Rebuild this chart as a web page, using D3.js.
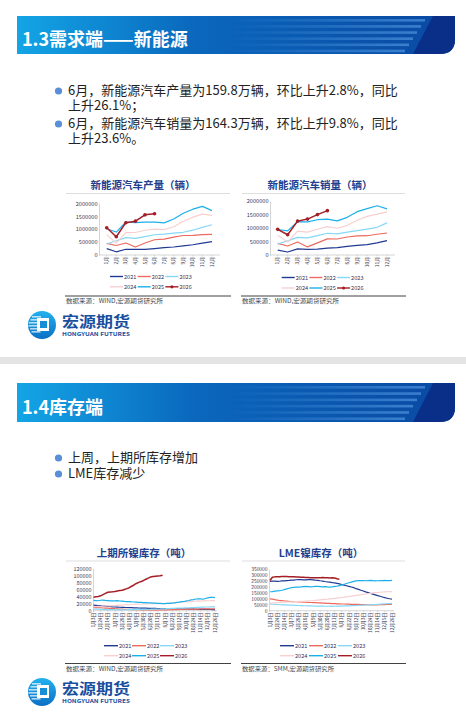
<!DOCTYPE html>
<html><head><meta charset="utf-8">
<script src="https://cdn.jsdelivr.net/npm/d3@7"></script>
<style>
body{margin:0;background:#fff}
svg{display:block}
text{font-family:"Noto Sans CJK SC","Noto Sans",sans-serif}
</style>
</head><body>
<svg id="c" width="466" height="719"></svg>
<script>
// ---------- data ----------
const years = ["2021","2022","2023","2024","2025","2026"];
const months = ["1月","2月","3月","4月","5月","6月","7月","8月","9月","10月","11月","12月"];

const prod2021 = [249000,124000,222000,217000,217000,248000,284000,309000,353000,397000,457000,518000];
const prod2022 = [452000,368000,465000,312000,466000,590000,617000,691000,755000,762000,787000,795000];
const prod2023 = [425000,552000,674000,640000,713000,784000,805000,843000,879000,959000,1066000,1172000];
const prod2024 = [787000,460000,863000,870000,958000,1003000,984000,1092000,1308000,1463000,1580000,1531000];
const prod2025 = [1015000,888000,1277000,1251000,1270000,1268000,1243000,1391000,1617000,1772000,1880000,1718000];
const prod2026 = [1055000,705000,1250000,1310000,1554000,1598000];

const sales2021 = [179000,110000,226000,206000,217000,256000,271000,321000,357000,383000,450000,531000];
const sales2022 = [431000,334000,484000,299000,447000,596000,593000,666000,708000,714000,768000,814000];
const sales2023 = [408000,525000,653000,636000,717000,806000,780000,846000,904000,956000,1026000,1191000];
const sales2024 = [729000,477000,883000,850000,955000,1049000,991000,1100000,1287000,1430000,1512000,1596000];
const sales2025 = [944000,892000,1237000,1226000,1307000,1329000,1262000,1395000,1604000,1715000,1823000,1710000];
const sales2026 = [950000,750000,1255000,1330000,1496000,1643000];

const weekTicks = ["1月3日","1月24日","2月14日","3月7日","3月28日","4月18日","5月9日","5月30日","6月20日","7月11日","8月1日","8月22日","9月12日","10月3日","10月24日","11月14日","12月5日","12月26日"];

const shfe2021 = [15800,15300,14500,14100,13000,12800,12100,11900,11000,10500,10300,9800,9600,9200,9100,8600,8500,8000,7900,7700,7300,7200,7100,6800,6700,6400,6300,6200,5900,5900,5700,5500,5500,5200,5200,5000,5000,4800,4700,4600,4400,4400,4200,4100,4000,3800,3700,3600,3500,3400,3200,3100];
const shfe2022 = [9200,8900,8400,8300,7700,7500,7100,6500,6300,5700,5300,4700,4600,4000,3900,3400,3300,2900,2800,2700,2400,2500,2200,2200,2000,2100,1900,2100,2300,2200,2500,2600,2900,3000,3300,3200,3600,3500,3900,4000,4200,4300,4500,4700,4600,4900,5100,5000,5100,5300,5200,5400];
const shfe2023 = [4600,4300,4200,3800,3700,3300,3200,3100,2900,2800,2600,2700,2500,2700,2800,3100,3000,3300,3500,3300,3500,3700,3800,4100,4200,4500,4400,4800,4900,5200,5300,5800,6000,6400,6500,7100,7200,7700,7900,8300,8400,8800,9000,9300,9400,9900,10100,10500,10500,11000,11100,11600];
const shfe2024 = [11000,11600,12100,12000,12900,13400,14100,13600,14600,14900,15600,15200,16100,16400,17100,16800,17600,17900,18500,18200,18900,19100,19600,19000,19700,19900,19800,20300,20400,20000,20500,20900,21600,21900,22600,22900,23600,23900,24700,24900,25600,25900,26500,26900,27600,27200,28000,28400,28100,28300,28900,28500];
const shfe2025 = [29000,28500,28100,29500,30100,29200,28700,28000,27600,27800,28300,27500,26900,26200,25700,25600,24900,24600,24100,23500,23300,22700,22600,22000,21900,21500,21300,20900,20700,20300,20200,20600,21000,21700,22300,23600,24500,25600,26100,27600,28900,30600,31400,33100,33900,33200,32400,34600,36400,37600,38100,37200];
const shfe2026 = [38000,39200,40400,42100,45600,49100,52300,53100,53400,54100,55600,56900,58100,60200,62400,65100,69200,72800,77100,80200,82400,85600,89100,92400,95600,96900,97600,98400,99100,100400];

const lme2021 = [248000,249500,250500,248000,249000,251500,252000,254500,256000,258500,259000,261500,262000,262500,261000,260000,262500,263000,261000,258000,256500,253000,250500,247000,244000,241500,238000,235500,231000,226500,221000,216500,211000,205500,200000,194500,187000,180500,173000,166500,159000,152500,146000,140500,134000,127500,122000,115500,110000,105500,101000,98000];
const lme2022 = [100000,97500,93000,89500,86000,84500,82000,80500,78000,77500,76000,75500,74000,73500,72000,71500,70000,69500,68000,67500,66000,65500,64000,63500,62000,61500,60000,59500,58000,57500,56500,56500,55000,55000,54000,53500,53000,53000,52000,51500,51000,50500,50000,50500,49500,50000,50500,51500,52000,53000,54000,55000];
const lme2023 = [55000,54500,53500,52500,50500,50000,49000,48500,47000,46500,45500,45000,44000,43500,42500,42000,41500,41000,40000,39500,39000,38500,38000,37500,37500,38000,37000,37500,38500,39000,39500,40500,41000,41500,42500,43500,44000,45000,46000,47000,48000,49000,50000,51500,52500,54000,55500,56500,58000,59500,61000,62500];
const lme2024 = [64000,66000,67000,69000,70000,71500,72000,73500,74000,75500,76000,77000,78000,79000,80000,81500,82500,84000,85000,87000,89000,91000,93000,95000,97000,99500,102000,104000,106500,109000,111500,114000,117000,120000,123000,126000,129000,132000,135000,138000,141000,144000,147000,150000,152000,154000,156000,158000,159000,160000,161000,160000];
const lme2025 = [160000,162000,165000,168000,170000,173000,178000,184000,190000,195000,198000,199000,200000,201000,203000,205000,204000,202000,203000,205000,206000,204000,202000,203000,201000,200000,202000,205000,208000,212000,218000,224000,230000,236000,242000,248000,252000,254000,255000,254000,253000,255000,256000,254000,252000,253000,254000,255000,256000,255000,254000,256000];
const lme2026 = [255000,283000,286000,287000,288000,289000,290000,289000,288000,287000,286000,285000,284000,283000,282000,281000,280000,279000,279000,278000,278000,279000,280000,279000,278000,277000,278000,276000,270000,266000];

const yTicksCars = [0,500000,1000000,1500000,2000000];
const yTicksShfe = [0,20000,40000,60000,80000,100000,120000];
const yTicksLme = [0,50000,100000,150000,200000,250000,300000,350000];

// ---------- styles ----------
const colorOf = {"2021":"#1f3a93","2022":"#ec6a5e","2023":"#86d8f7","2024":"#f8d0d0","2025":"#1cb0ea","2026":"#a51d24"};

const svg = d3.select("#c");
const defs = svg.append("defs");

const bg = defs.append("linearGradient").attr("id","bannerGrad").attr("x1","0").attr("x2","1").attr("y1","0").attr("y2","0");
bg.append("stop").attr("offset","0%").attr("stop-color","#13a5e6");
bg.append("stop").attr("offset","40%").attr("stop-color","#0a68bd");
bg.append("stop").attr("offset","100%").attr("stop-color","#0a48a2");

const sg = defs.append("linearGradient").attr("id","stripeGrad").attr("x1","0").attr("x2","1").attr("y1","0").attr("y2","0");
sg.append("stop").attr("offset","0%").attr("stop-color","#5fa8ee").attr("stop-opacity",0);
sg.append("stop").attr("offset","100%").attr("stop-color","#5fa8ee").attr("stop-opacity",0.55);

const lg = defs.append("linearGradient").attr("id","logoGrad").attr("x1","0").attr("x2","0").attr("y1","0").attr("y2","1");
lg.append("stop").attr("offset","0%").attr("stop-color","#22b2ee");
lg.append("stop").attr("offset","100%").attr("stop-color","#0b6fc4");

function banner(y0, y1, title){
  const g = svg.append("g");
  const r = 15;
  g.append("path").attr("d",`M17,${y0} H455 V${y1-r} Q455,${y1} ${455-r},${y1} H17 Z`).attr("fill","url(#bannerGrad)");
  const h = y1-y0;
  for(let i=0;i<6;i++){
    const yy = y0 + 3 + i*h/6.2;
    g.append("rect").attr("x",230).attr("y",yy).attr("width",195 - i*4).attr("height",2.6).attr("fill","url(#stripeGrad)");
  }
  g.append("path").attr("d",`M433,${y0} H455 V${y1-r} Q455,${y1} ${455-r},${y1} H413 Z`).attr("fill","#0a2f88");
  g.append("text").attr("x",22).attr("y",y1-8).attr("fill","#fff").attr("font-size",18).attr("font-weight","bold").text(title);
}

function bulletBlock(y0, lines){
  let y = y0;
  lines.forEach((l,i)=>{
    y += (i===0 ? 0 : l.gap);
    if(l.dot) svg.append("circle").attr("cx",58.5).attr("cy",y-4).attr("r",3.6).attr("fill","#5b8ed8");
    svg.append("text").attr("x",68).attr("y",y).attr("font-size",13).attr("fill","#222")
      .attr("font-family","'Liberation Sans','Noto Sans CJK SC',sans-serif").text(l.t);
  });
}

function logo(cy){
  const g = svg.append("g");
  g.append("circle").attr("cx",42).attr("cy",cy).attr("r",14).attr("fill","url(#logoGrad)");
  [-8,-5,-2,1,4,7].forEach((d,i)=>{
    g.append("rect").attr("x",28+Math.abs(d)*0.5).attr("y",cy+d-0.8).attr("width",9).attr("height",1.3).attr("fill","#fff").attr("opacity",0.85);
  });
  g.append("rect").attr("x",37).attr("y",cy-7).attr("width",12).attr("height",13).attr("fill","#fff");
  g.append("rect").attr("x",40).attr("y",cy-4).attr("width",7).attr("height",7).attr("fill","#1590d8");
  g.append("text").attr("x",62).attr("y",cy+1.5).attr("font-size",14.5).attr("font-weight","bold").attr("fill","#1a4f9f")
    .attr("textLength",68).attr("lengthAdjust","spacingAndGlyphs").text("宏源期货");
  g.append("text").attr("x",62).attr("y",cy+11).attr("font-size",5.4).attr("font-weight","bold").attr("fill","#1a4f9f")
    .attr("textLength",68).attr("lengthAdjust","spacingAndGlyphs").text("HONGYUAN FUTURES");
}

function chart(c){
  const g = svg.append("g");
  g.append("text").attr("x",c.titleX).attr("y",c.titleY).attr("text-anchor","middle").attr("font-size",10.5)
    .attr("font-weight","bold").attr("fill","#23408e").text(c.title);
  g.append("line").attr("x1",c.fx0+1).attr("x2",c.fx1-1).attr("y1",c.sepY).attr("y2",c.sepY).attr("stroke","#d0d0d0").attr("stroke-width",0.7);
  const n = c.nPoints;
  const x = d3.scaleLinear().domain([0,n-1]).range([c.x0,c.x1]);
  const y = d3.scaleLinear().domain([0,c.yMax]).range([c.yBot,c.yTop]);
  const ya = g.append("g").attr("transform",`translate(${c.axisX},0)`)
    .call(d3.axisLeft(y).tickValues(c.yTicks).tickSize(0).tickPadding(1.5).tickFormat(d3.format("d")));
  ya.select(".domain").attr("stroke","#b8b8b8").attr("stroke-width",0.6);
  ya.selectAll("text").attr("font-size",c.yFont).attr("fill","#3a3a55").attr("font-family","Liberation Sans, Arial, sans-serif");
  g.append("line").attr("x1",c.axisX).attr("x2",c.x1+ (c.x1-c.x0)/(n-1)*0.5 + (n>20?1:3)).attr("y1",c.yBot).attr("y2",c.yBot).attr("stroke","#b8b8b8").attr("stroke-width",0.6);
  c.xLabels.forEach((lab,i)=>{
    const xi = x(c.labelIdx(i));
    g.append("line").attr("x1",xi).attr("x2",xi).attr("y1",c.yBot).attr("y2",c.yBot+1.6).attr("stroke","#b8b8b8").attr("stroke-width",0.5);
    g.append("text").attr("transform",`translate(${xi+1.6},${c.yBot+2})rotate(-90)`).attr("text-anchor","end")
      .attr("font-size",4.8).attr("fill","#3a3a55").text(lab);
  });
  const line = d3.line().x((d,i)=>x(i)).y(d=>y(d));
  c.series.forEach((s,k)=>{
    const yr = years[k];
    g.append("path").datum(s).attr("d",line).attr("fill","none").attr("stroke",colorOf[yr])
      .attr("stroke-width", yr==="2026" ? 1.5 : 1.2).attr("stroke-linejoin","round");
    if(c.markers && yr==="2026"){
      g.selectAll(null).data(s).join("circle").attr("cx",(d,i)=>x(i)).attr("cy",d=>y(d)).attr("r",1.8).attr("fill",colorOf[yr]);
    }
  });
  years.forEach((yr,k)=>{
    const row = Math.floor(k/3), col = k%3;
    const lx = c.legX + col*c.legStep, ly = row===0 ? c.legY1 : c.legY2;
    g.append("line").attr("x1",lx).attr("x2",lx+c.legLine).attr("y1",ly).attr("y2",ly).attr("stroke",colorOf[yr]).attr("stroke-width",1.4);
    if(c.markers && yr==="2026") g.append("circle").attr("cx",lx+c.legLine/2).attr("cy",ly).attr("r",1.6).attr("fill",colorOf[yr]);
    g.append("text").attr("x",lx+c.legLine+1).attr("y",ly+2).attr("font-size",5.6).attr("fill","#33335a")
      .attr("font-family","Liberation Sans, Arial, sans-serif").text(yr);
  });
  g.append("line").attr("x1",c.fx0).attr("x2",c.fx1).attr("y1",c.ruleY).attr("y2",c.ruleY).attr("stroke","#111").attr("stroke-width",0.8);
  g.append("text").attr("x",c.fx0+1).attr("y",c.ruleY+7).attr("font-size",5.6).attr("fill","#444")
    .attr("textLength",c.srcLen).attr("lengthAdjust","spacingAndGlyphs").text(c.src);
}

// ---------- slide 1 ----------
banner(16,54,"1.3需求端——新能源");
bulletBlock(95,[
  {dot:true,gap:0,t:"6月，新能源汽车产量为159.8万辆，环比上升2.8%，同比"},
  {dot:false,gap:15,t:"上升26.1%；"},
  {dot:true,gap:18,t:"6月，新能源汽车销量为164.3万辆，环比上升9.8%，同比"},
  {dot:false,gap:15,t:"上升23.6%。"}
]);

const monthIdx = i=>i;
chart({title:"新能源汽车产量（辆）",titleX:143,titleY:189,sepY:193.5,fx0:65,fx1:231,
  nPoints:12,x0:106.7,x1:212,yTop:203.3,yBot:255,axisX:99,yMax:2000000,yTicks:yTicksCars,yFont:5.6,
  xLabels:months,labelIdx:monthIdx,series:[prod2021,prod2022,prod2023,prod2024,prod2025,prod2026],markers:true,
  legX:110,legStep:27.7,legLine:13,legY1:276.5,legY2:286.8,ruleY:296,src:"数据来源：WIND,宏源期货研究所",srcLen:97});
chart({title:"新能源汽车销量（辆）",titleX:320,titleY:189,sepY:193.5,fx0:241,fx1:406,
  nPoints:12,x0:277.7,x1:387,yTop:201,yBot:255,axisX:270,yMax:2000000,yTicks:yTicksCars,yFont:5.6,
  xLabels:months,labelIdx:monthIdx,series:[sales2021,sales2022,sales2023,sales2024,sales2025,sales2026],markers:true,
  legX:281.7,legStep:27.7,legLine:13,legY1:277.5,legY2:288,ruleY:296,src:"数据来源：WIND,宏源期货研究所",srcLen:97});
logo(325);

svg.append("rect").attr("x",0).attr("y",357).attr("width",466).attr("height",7).attr("fill","#e4e4e4");

// ---------- slide 2 ----------
banner(383,422,"1.4库存端");
bulletBlock(462,[
  {dot:true,gap:0,t:"上周，上期所库存增加"},
  {dot:true,gap:16,t:"LME库存减少"}
]);
const weekIdx = i=>i*3;
chart({title:"上期所镍库存（吨）",titleX:144,titleY:556.5,sepY:561,fx0:65,fx1:231,
  nPoints:52,x0:93.5,x1:215,yTop:568.3,yBot:610.7,axisX:93,yMax:120000,yTicks:yTicksShfe,yFont:5.4,
  xLabels:weekTicks,labelIdx:weekIdx,series:[shfe2021,shfe2022,shfe2023,shfe2024,shfe2025,shfe2026],markers:false,
  legX:104,legStep:28,legLine:14,legY1:645.7,legY2:655.7,ruleY:663.5,src:"数据来源：WIND,宏源期货研究所",srcLen:97});
chart({title:"LME镍库存（吨）",titleX:321,titleY:556.5,sepY:561,fx0:241,fx1:406,
  nPoints:52,x0:270,x1:392,yTop:569.3,yBot:610.7,axisX:269,yMax:350000,yTicks:yTicksLme,yFont:4.9,
  xLabels:weekTicks,labelIdx:weekIdx,series:[lme2021,lme2022,lme2023,lme2024,lme2025,lme2026],markers:false,
  legX:280,legStep:29,legLine:14,legY1:645.7,legY2:655.7,ruleY:663.5,src:"数据来源：SMM,宏源期货研究所",srcLen:92});
logo(692);
</script>
</body></html>
